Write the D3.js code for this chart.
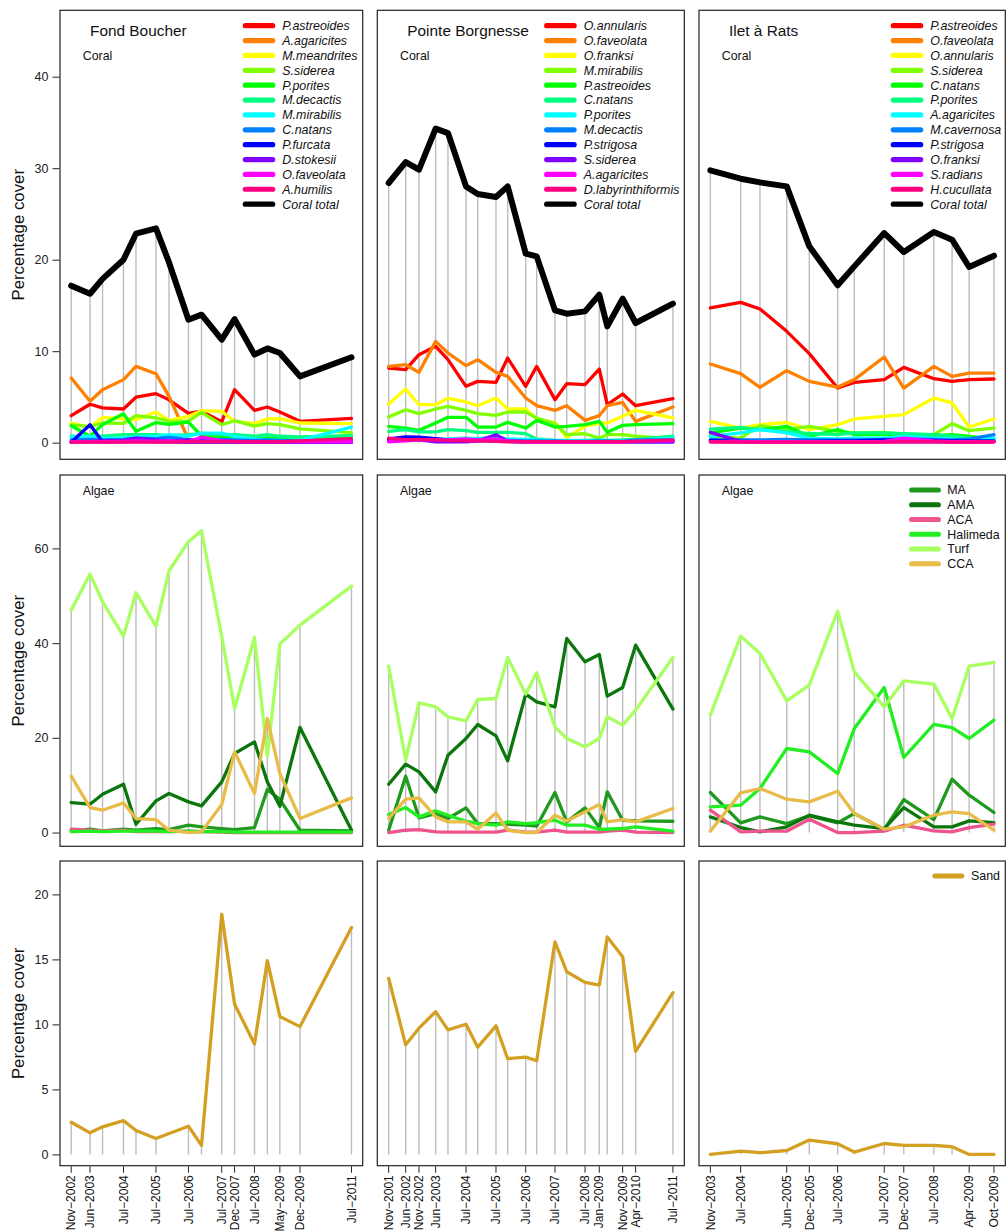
<!DOCTYPE html>
<html>
<head>
<meta charset="utf-8">
<script src="https://cdn.jsdelivr.net/npm/d3@7"></script>
<style>
  html, body { margin: 0; padding: 0; background: #fff; }
  svg { display: block; font-family: "Liberation Sans", Arial, Helvetica, sans-serif; }
</style>
</head>
<body>
<svg id="chart" width="1008" height="1232"></svg>
<script>
// ---------- sampling dates per site ----------
const fbDates = ["2002-11-20","2003-06-20","2003-11-08","2004-07-01","2004-11-19","2005-07-02","2005-11-26","2006-07-03",
  "2006-11-27","2007-07-13","2007-12-05","2008-07-16","2008-12-08","2009-04-28","2009-12-11","2011-07-14"];
const pbDates = ["2001-11-15","2002-06-14","2002-11-26","2003-06-21","2003-11-21","2004-07-02","2004-11-24","2005-07-09",
  "2005-12-01","2006-07-13","2006-11-26","2007-07-11","2007-12-04","2008-07-18","2009-01-11","2009-04-20","2009-10-28",
  "2010-04-07","2011-07-14"];
const irDates = ["2003-11-15","2004-07-03","2004-11-27","2005-06-19","2005-12-08","2006-07-12","2006-11-16","2007-07-02",
  "2007-11-28","2008-07-14","2008-11-30","2009-04-09","2009-10-15"];
// sand was not recorded at the Nov 2005 Fond Boucher survey
const fbSandDates = fbDates.filter(d => d !== "2005-11-26");

// ---------- x-axis tick labels (bottom row) ----------
const fbTickDates = ["2002-11-20","2003-06-20","2004-07-01","2005-07-02","2006-07-03","2007-07-13","2007-12-05","2008-07-16","2009-04-28","2009-12-11","2011-07-14"];
const fbTickLabels = ["Nov−2002","Jun−2003","Jul−2004","Jul−2005","Jul−2006","Jul−2007","Dec−2007","Jul−2008","May−2009","Dec−2009","Jul−2011"];
const pbTickDates = ["2001-11-15","2002-06-14","2002-11-26","2003-06-21","2004-07-02","2005-07-09","2006-07-13","2007-07-11","2008-07-18","2009-01-11","2009-10-28","2010-04-07","2011-07-14"];
const pbTickLabels = ["Nov−2001","Jun−2002","Nov−2002","Jun−2003","Jul−2004","Jul−2005","Jul−2006","Jul−2007","Jul−2008","Jan−2009","Nov−2009","Apr−2010","Jul−2011"];
const irTickDates = ["2003-11-15","2004-07-03","2005-06-19","2005-12-08","2006-07-12","2007-07-02","2007-11-28","2008-07-14","2009-04-09","2009-10-15"];
const irTickLabels = ["Nov−2003","Jul−2004","Jun−2005","Dec−2005","Jul−2006","Jul−2007","Dec−2007","Jul−2008","Apr−2009","Oct−2009"];

// ---------- coral cover: Fond Boucher ----------
const fbCoralNames = ["P.astreoides","A.agaricites","M.meandrites","S.siderea","P.porites","M.decactis","M.mirabilis",
  "C.natans","P.furcata","D.stokesii","O.faveolata","A.humilis"];
const fbCoralValues = [
  [2.95,4.2,3.8,3.68,4.97,5.36,4.68,3.2,3.45,2.28,5.79,3.53,3.9,3.35,2.33,2.66],
  [7.07,4.52,5.79,6.89,8.34,7.54,5.06,0.35,0.3,0.25,0.3,0.25,0.2,0.2,0.25,0.3],
  [2.15,1.7,2.75,2.6,2.5,3.35,2.44,2.88,3.5,3.42,2.33,2.08,2.6,2.62,2.15,2.08],
  [1.95,1.75,2.15,2.1,2.95,2.7,2.33,2.35,3.3,1.97,2.4,1.8,2.08,1.97,1.5,1.1],
  [1.85,0.7,1.97,3.17,1.25,2.2,2.0,2.25,0.75,0.6,0.6,0.45,0.5,0.5,0.55,0.6],
  [0.7,0.62,0.7,0.87,0.87,0.87,0.76,0.87,1.0,0.87,0.87,0.7,0.87,0.7,0.62,0.76],
  [0.62,0.7,0.5,0.5,0.62,0.7,0.87,0.7,1.05,1.05,0.7,0.4,0.33,0.25,0.25,1.7],
  [0.3,0.35,0.3,0.35,0.5,0.45,0.6,0.3,0.3,0.35,0.3,0.25,0.3,0.25,0.2,0.3],
  [0.05,1.95,0.1,0.1,0.15,0.1,0.1,0.05,0.05,0.05,0.05,0.05,0.05,0.05,0.05,0.05],
  [0.1,0.15,0.2,0.25,0.5,0.3,0.2,0.3,0.2,0.2,0.15,0.15,0.1,0.1,0.05,0.05],
  [0.1,0.1,0.1,0.15,0.2,0.15,0.2,0.1,0.6,0.2,0.1,0.1,0.1,0.1,0.1,0.1],
  [0.05,0.05,0.05,0.05,0.05,0.05,0.05,0.1,0.1,0.1,0.1,0.1,0.1,0.1,0.2,0.45]
];
const fbCoralTotal = [17.16,16.28,17.9,20.0,22.84,23.42,19.7,13.44,13.99,11.26,13.5,9.62,10.3,9.8,7.25,9.33];

// ---------- coral cover: Pointe Borgnesse ----------
const pbCoralNames = ["O.annularis","O.faveolata","O.franksi","M.mirabilis","P.astreoides","C.natans","P.porites",
  "M.decactis","P.strigosa","S.siderea","A.agaricites","D.labyrinthiformis"];
const pbCoralValues = [
  [8.16,7.98,9.62,10.53,9.07,6.16,6.7,6.59,9.25,6.16,8.34,4.7,6.45,6.34,8.05,4.15,5.32,4.04,4.81],
  [8.34,8.52,7.69,11.07,9.8,8.42,9.07,7.69,7.25,4.88,4.04,3.53,4.04,2.44,2.95,4.04,4.41,2.33,3.9],
  [4.23,5.87,4.15,4.15,4.85,4.45,4.04,4.88,3.68,3.68,2.6,2.2,0.55,1.8,2.1,2.15,2.9,3.53,2.7],
  [2.8,3.6,3.17,3.68,3.97,3.53,3.17,2.99,3.35,3.35,2.7,2.08,0.87,0.98,0.5,0.87,0.87,0.7,0.4],
  [1.79,1.6,1.35,2.15,2.77,2.77,1.71,1.71,2.22,1.6,2.44,1.71,1.79,1.97,2.33,1.13,1.89,1.97,2.08],
  [1.24,1.42,1.17,1.17,1.42,1.31,1.13,1.13,1.13,0.98,0.4,0.25,0.2,0.25,0.3,0.25,0.3,0.35,0.7],
  [0.45,0.5,0.4,0.35,0.4,0.5,0.45,0.6,0.4,0.35,0.3,0.25,0.25,0.2,0.25,0.2,0.2,0.25,0.5],
  [0.3,0.3,0.35,0.3,0.3,0.3,0.35,0.3,0.25,0.2,0.2,0.2,0.15,0.15,0.2,0.2,0.15,0.3,0.3],
  [0.4,0.62,0.6,0.45,0.3,0.25,0.2,0.2,0.15,0.1,0.1,0.1,0.1,0.1,0.1,0.1,0.1,0.1,0.1],
  [0.2,0.3,0.3,0.1,0.1,0.1,0.2,0.87,0.15,0.1,0.1,0.1,0.1,0.1,0.1,0.1,0.1,0.1,0.1],
  [0.1,0.2,0.3,0.3,0.3,0.4,0.3,0.4,0.2,0.1,0.1,0.1,0.1,0.1,0.1,0.1,0.1,0.15,0.2],
  [0.5,0.3,0.35,0.3,0.25,0.2,0.2,0.15,0.1,0.1,0.1,0.1,0.1,0.1,0.1,0.1,0.1,0.15,0.3]
];
const pbCoralTotal = [28.38,30.67,29.84,34.32,33.84,28.01,27.18,26.85,28.01,20.66,20.36,14.46,14.1,14.35,16.17,12.71,15.74,13.08,15.19];

// ---------- coral cover: Ilet à Rats ----------
const irCoralNames = ["P.astreoides","O.faveolata","O.annularis","S.siderea","C.natans","P.porites","A.agaricites",
  "M.cavernosa","P.strigosa","O.franksi","S.radians","H.cucullata"];
const irCoralValues = [
  [14.72,15.34,14.61,12.17,9.73,5.97,6.59,6.89,8.23,6.99,6.7,6.89,6.96],
  [8.6,7.54,6.05,7.87,6.7,6.08,6.89,9.36,5.97,8.34,7.25,7.61,7.61],
  [2.33,1.6,1.97,2.22,1.42,1.97,2.59,2.88,3.06,4.88,4.34,1.71,2.59],
  [0.7,0.5,1.86,1.42,1.79,1.24,1.06,1.13,0.87,0.87,2.08,1.31,1.6],
  [1.06,1.6,1.42,1.79,0.69,1.42,0.87,0.87,0.87,0.76,0.87,0.69,0.4],
  [1.49,1.68,1.42,1.24,1.0,0.87,1.06,1.06,0.98,0.87,0.7,0.5,0.33],
  [0.7,1.06,1.42,1.06,0.5,0.4,0.5,0.5,0.7,0.5,0.4,0.33,0.5],
  [0.33,0.3,0.3,0.35,0.3,0.3,0.3,0.35,0.4,0.35,0.3,0.4,0.87],
  [0.25,0.15,0.1,0.1,0.15,0.2,0.2,0.3,0.3,0.25,0.2,0.2,0.2],
  [1.13,0.15,0.1,0.1,0.1,0.1,0.1,0.1,0.1,0.1,0.1,0.1,0.1],
  [0.1,0.1,0.1,0.1,0.1,0.1,0.1,0.15,0.5,0.2,0.1,0.1,0.1],
  [0.1,0.05,0.05,0.05,0.05,0.05,0.05,0.05,0.1,0.1,0.05,0.05,0.1]
];
const irCoralTotal = [29.76,28.85,28.45,28.01,21.46,17.2,19.27,22.91,20.84,23.02,22.19,19.2,20.44];

// ---------- algae cover ----------
const algaeNames = ["MA","AMA","ACA","Halimeda","Turf","CCA"];
const fbAlgae = [
  [0.35,0.7,0.35,0.7,0.5,0.85,0.63,1.55,1.2,0.85,0.63,1.06,9.08,6.97,0.49,0.35],
  [6.34,5.99,8.1,10.21,1.76,6.69,8.24,6.48,5.63,10.7,16.69,19.15,10.7,5.56,22.18,0.49],
  [0.7,0.5,0.35,0.5,0.2,0.2,0.2,0.3,0.2,0.1,0,0,0,0,0,0],
  [0.2,0.3,0.2,0.3,0.3,0.3,0.2,0.3,0.2,0.2,0.1,0.1,0.1,0.1,0.1,0.1],
  [46.97,54.58,48.73,41.48,50.63,43.59,55.28,61.41,63.73,41.4,26.2,41.2,16.13,39.8,43.8,52.04],
  [11.9,5.28,4.72,6.27,2.96,2.75,0.49,0,0.14,5.92,17.04,8.24,24.08,12.46,2.96,7.32]
];
const pbAlgae = [
  [0.49,11.9,3.1,4.01,2.96,5.21,1.9,1.9,1.76,1.55,1.34,8.45,2.25,5.21,1.06,8.59,2.6,2.46,2.39],
  [10.21,14.44,12.82,8.59,16.34,19.86,22.82,20.42,15.14,29.23,27.61,26.55,40.99,36.06,37.61,28.8,30.63,39.58,26.06],
  [0,0.49,0.63,0.14,0.1,0.1,0.1,0.1,0.5,0.1,0.1,0.49,0.1,0.1,0.1,0.3,0.5,0.1,0],
  [3.8,5.28,3.31,4.58,3.66,2.39,1.9,1.55,2.25,1.9,2.11,2.6,1.55,1.55,0.7,0.7,0.85,1.2,0.28],
  [35.14,15.28,27.39,26.55,24.44,23.59,28.1,28.31,36.97,29.23,33.73,22.32,19.86,18.1,19.86,24.44,22.68,25.85,36.97],
  [2.96,7.04,7.32,3.31,2.25,2.25,0.7,4.15,0.49,0,0,3.66,2.46,4.37,5.92,2.25,2.75,2.25,5.07]
];
const irAlgae = [
  [8.45,2.04,3.31,1.9,3.52,2.04,4.01,0.63,6.97,2.75,11.27,7.89,4.23],
  [3.31,1.06,0.14,1.2,3.66,2.25,1.55,0.85,5.28,1.2,1.2,2.46,2.11],
  [4.72,0.14,0.28,0.28,2.82,0,0,0.28,1.55,0.35,0.14,1.06,1.76],
  [5.42,5.77,9.3,17.75,17.04,12.46,21.97,30.63,15.85,22.82,22.18,19.86,23.73],
  [24.79,41.48,37.82,27.82,31.13,46.76,33.94,26.55,32.04,31.34,24.08,35.14,35.92],
  [0.28,8.38,9.3,7.04,6.48,8.73,4.01,0.7,1.2,3.66,4.37,4.01,0.49]
];

// ---------- sand cover ----------
const fbSand = [2.47,1.66,2.12,2.6,1.84,1.23,2.17,0.69,18.47,11.55,8.5,14.9,10.6,9.83,17.45];
const pbSand = [13.54,8.43,9.71,10.98,9.58,10.01,8.25,9.89,7.36,7.48,7.2,16.35,14.05,13.23,13.03,16.73,15.2,7.92,12.44];
const irSand = [0,0.26,0.13,0.3,1.1,0.82,0.18,0.84,0.69,0.69,0.59,0,0];

// ---------- y ticks ----------
const coralTicks = [0,10,20,30,40];
const algaeTicks = [0,20,40,60];
const sandTicks = [0,5,10,15,20];

// ---------- styling ----------
const coralColors = ["#FF0000","#FF8000","#FFFF00","#80FF00","#00FF00","#00FF80","#00FFFF","#0080FF","#0000FF","#8000FF","#FF00FF","#FF0080"];
const algaeColors = ["#1F9A1F","#0B760B","#F0548E","#22EE22","#A8FF60","#E8BC48"];
const sandColor = "#D4A023";
const gridColor = "#BDBDBD";

const parse = d3.timeParse("%Y-%m-%d");
const svg = d3.select("#chart");

const cols = [{x0: 60, x1: 362.7}, {x0: 377.3, x1: 684.3}, {x0: 699, x1: 1005.3}];
const rows = [{y0: 10.3, y1: 459.3, lim: 45.44}, {y0: 475, y1: 846.3, lim: 72.6}, {y0: 861, y1: 1165.7, lim: 21.7}];

const sites = [
  {title: "Fond Boucher", dates: fbDates, sandDates: fbSandDates, names: fbCoralNames, coral: fbCoralValues, total: fbCoralTotal,
   algae: fbAlgae, sand: fbSand, ticks: fbTickDates, labels: fbTickLabels},
  {title: "Pointe Borgnesse", dates: pbDates, sandDates: pbDates, names: pbCoralNames, coral: pbCoralValues, total: pbCoralTotal,
   algae: pbAlgae, sand: pbSand, ticks: pbTickDates, labels: pbTickLabels},
  {title: "Ilet à Rats", dates: irDates, sandDates: irDates, names: irCoralNames, coral: irCoralValues, total: irCoralTotal,
   algae: irAlgae, sand: irSand, ticks: irTickDates, labels: irTickLabels}
];

function xScaleFor(col, dates) {
  const pad = (col.x1 - col.x0) * 0.04 / 1.08;
  const ext = d3.extent(dates, parse);
  return d3.scaleTime().domain(ext).range([col.x0 + pad, col.x1 - pad]);
}
function yScaleFor(row) {
  const pad = row.lim * 0.04;
  return d3.scaleLinear().domain([-pad, row.lim + pad]).range([row.y1, row.y0]);
}

// vertical drop lines from zero to the top value at each survey
function dropLines(g, x, y, dates, tops) {
  g.append("g").selectAll("line").data(dates.map((d, i) => ({d: parse(d), v: tops[i]})))
    .join("line")
    .attr("x1", p => x(p.d)).attr("x2", p => x(p.d))
    .attr("y1", y(0)).attr("y2", p => y(p.v))
    .attr("stroke", gridColor).attr("stroke-width", 1.4);
}
function series(g, x, y, dates, vals, color, width) {
  const line = d3.line().x((v, i) => x(parse(dates[i]))).y(v => y(v));
  g.append("path").attr("d", line(vals)).attr("fill", "none")
    .attr("stroke", color).attr("stroke-width", width)
    .attr("stroke-linejoin", "round").attr("stroke-linecap", "round");
}
function frame(col, row) {
  svg.append("rect").attr("x", col.x0).attr("y", row.y0)
    .attr("width", col.x1 - col.x0).attr("height", row.y1 - row.y0)
    .attr("fill", "none").attr("stroke", "#222").attr("stroke-width", 1.2);
}
function yAxis(col, row, y, ticks) {
  const axis = d3.axisLeft(y).tickValues(ticks).tickSize(7).tickPadding(4).tickFormat(d3.format("d"));
  const g = svg.append("g").attr("transform", `translate(${col.x0 - 0.5},0)`).call(axis);
  g.select(".domain").remove();
  g.selectAll("line").attr("stroke", "#222");
  g.selectAll("text").attr("font-size", 12.5).attr("fill", "#222")
    .attr("font-family", '"Liberation Sans", Arial, sans-serif');
  svg.append("text").attr("transform", `translate(24,${(row.y0 + row.y1) / 2}) rotate(-90)`)
    .attr("text-anchor", "middle").attr("font-size", 16.8).attr("fill", "#111").text("Percentage cover");
}

sites.forEach((s, ci) => {
  const col = cols[ci];
  const x = xScaleFor(col, s.dates);

  // ---- coral row ----
  {
    const row = rows[0];
    const y = yScaleFor(row);
    const g = svg.append("g");
    dropLines(g, x, y, s.dates, s.total);
    s.coral.forEach((vals, k) => series(g, x, y, s.dates, vals, coralColors[k], 3.3));
    series(g, x, y, s.dates, s.total, "#000", 6);
    frame(col, row);
    if (ci === 0) yAxis(col, row, y, coralTicks);

    const titleX = [90, 407.3, 729][ci];
    svg.append("text").attr("x", titleX).attr("y", 35.5).attr("font-size", 15.4).attr("fill", "#111").text(s.title);
    svg.append("text").attr("x", col.x0 + [22.7, 22.7, 22.7][ci]).attr("y", 60).attr("font-size", 12.4).attr("fill", "#111").text("Coral");

    // legend
    const lx1 = [245.3, 546.7, 893.3][ci], lx2 = lx1 + 27.4, tx = lx1 + 37;
    const entries = s.names.map((n, k) => ({n, c: coralColors[k]})).concat([{n: "Coral total", c: "#000"}]);
    const leg = svg.append("g").selectAll("g").data(entries).join("g")
      .attr("transform", (e, k) => `translate(0,${25.7 + k * 14.87})`);
    leg.append("line").attr("x1", lx1).attr("x2", lx2).attr("y1", 0).attr("y2", 0)
      .attr("stroke", e => e.c).attr("stroke-width", 5.2).attr("stroke-linecap", "round");
    leg.append("text").attr("x", tx).attr("y", 4.4).attr("font-size", 12.4).attr("font-style", "italic")
      .attr("fill", "#111").text(e => e.n);
  }

  // ---- algae row ----
  {
    const row = rows[1];
    const y = yScaleFor(row);
    const g = svg.append("g");
    const tops = s.dates.map((d, i) => d3.max(s.algae, a => a[i]));
    dropLines(g, x, y, s.dates, tops);
    s.algae.forEach((vals, k) => series(g, x, y, s.dates, vals, algaeColors[k], 3.3));
    frame(col, row);
    if (ci === 0) yAxis(col, row, y, algaeTicks);
    svg.append("text").attr("x", col.x0 + 22.7).attr("y", 494.5).attr("font-size", 12.4).attr("fill", "#111").text("Algae");

    if (ci === 2) {
      const leg = svg.append("g").selectAll("g").data(algaeNames.map((n, k) => ({n, c: algaeColors[k]}))).join("g")
        .attr("transform", (e, k) => `translate(0,${490 + k * 14.75})`);
      leg.append("line").attr("x1", 911.7).attr("x2", 938.3).attr("y1", 0).attr("y2", 0)
        .attr("stroke", e => e.c).attr("stroke-width", 5.2).attr("stroke-linecap", "round");
      leg.append("text").attr("x", 947.3).attr("y", 4.4).attr("font-size", 12.4).attr("fill", "#111").text(e => e.n);
    }
  }

  // ---- sand row ----
  {
    const row = rows[2];
    const y = yScaleFor(row);
    const g = svg.append("g");
    dropLines(g, x, y, s.sandDates, s.sand);
    series(g, x, y, s.sandDates, s.sand, sandColor, 3.3);
    frame(col, row);
    if (ci === 0) yAxis(col, row, y, sandTicks);

    // x axis with rotated date labels
    const ax = svg.append("g").attr("transform", `translate(0,${row.y1 + 0.5})`);
    const tk = s.ticks.map((d, i) => ({d: parse(d), l: s.labels[i]}));
    ax.selectAll("line").data(tk).join("line")
      .attr("x1", t => x(t.d)).attr("x2", t => x(t.d)).attr("y1", 0).attr("y2", 6.5)
      .attr("stroke", "#222");
    ax.selectAll("text").data(tk).join("text")
      .attr("transform", t => `translate(${x(t.d)},9) rotate(-90)`)
      .attr("text-anchor", "end").attr("dy", "0.35em").attr("font-size", 12).attr("fill", "#111")
      .text(t => t.l);

    if (ci === 2) {
      svg.append("line").attr("x1", 935).attr("x2", 961.7).attr("y1", 876).attr("y2", 876)
        .attr("stroke", sandColor).attr("stroke-width", 5.2).attr("stroke-linecap", "round");
      svg.append("text").attr("x", 971).attr("y", 880.4).attr("font-size", 12.4).attr("fill", "#111").text("Sand");
    }
  }
});
</script>
</body>
</html>
